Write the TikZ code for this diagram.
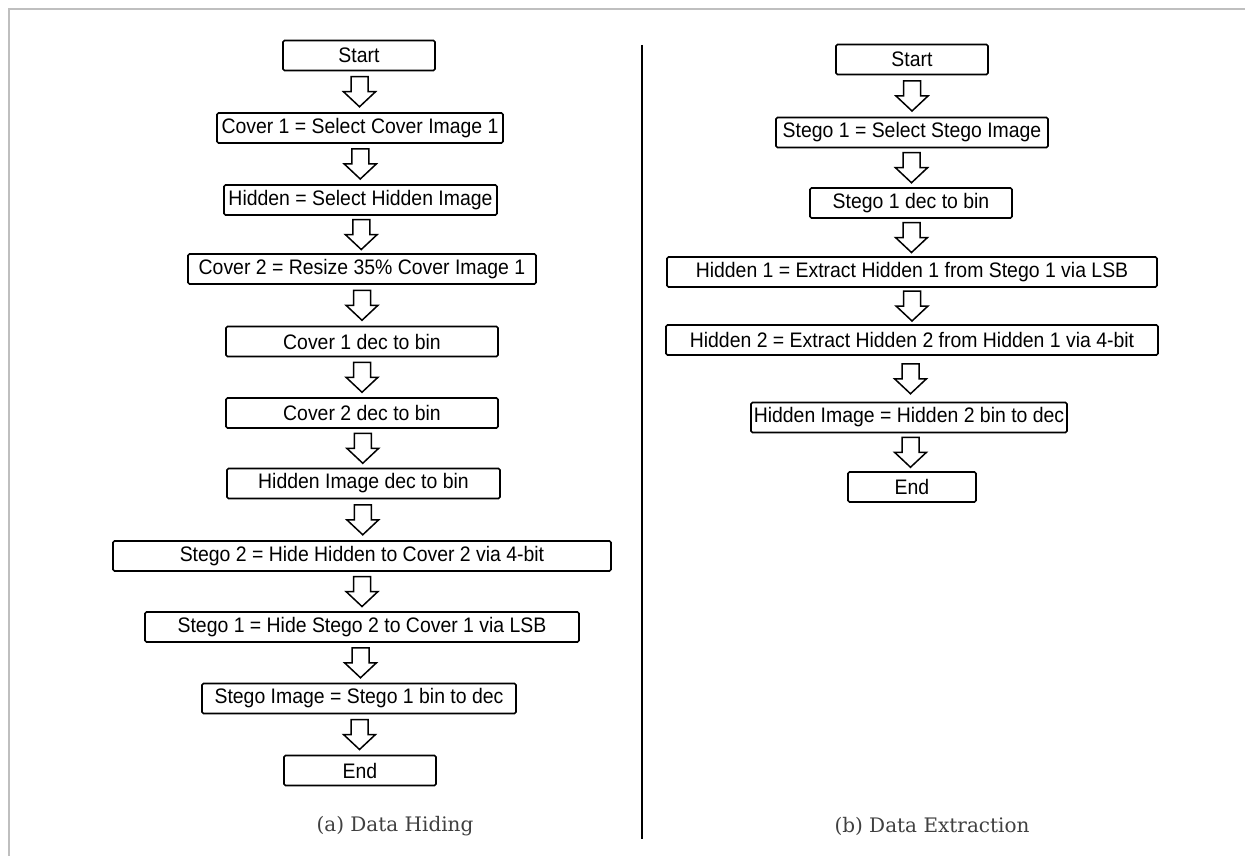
\documentclass[tikz,border=0pt]{standalone}
\usepackage{fontspec}
\setmainfont{Liberation Sans}[FakeStretch=0.925]
\newfontfamily\capfont{DejaVu Serif}
\usetikzlibrary{calc}
\tikzset{
  stepbox/.style={draw=black, line width=1.6pt, rounded corners=1.5pt, minimum height=30pt, inner sep=0pt, fill=white, font=\fontsize{21}{24}\selectfont},
  flowarrow/.style={draw=black, line width=1.5pt, fill=white},
  captext/.style={font=\capfont\fontsize{20}{24}\selectfont, text=black!75},
}
\newcommand{\flowarr}[2]{%
  \coordinate (m) at ($(#1.south)!0.5!(#2.north)$);
  \draw[flowarrow] ($(m)+(-8.5,-15)$) -- ($(m)+(8.5,-15)$) -- ($(m)+(8.5,0)$) -- ($(m)+(16,0)$) -- ($(m)+(0,15)$) -- ($(m)+(-16,0)$) -- ($(m)+(-8.5,0)$) -- cycle;
}
\begin{document}
\begin{tikzpicture}[x=1pt,y=-1pt]
\useasboundingbox (0,0) rectangle (1245,856);
\draw[black!25, line width=2pt] (9,856) -- (9,9) -- (1245,9);
\draw[black, line width=1.5pt] (642,45) -- (642,839);

% left column
\node[stepbox, minimum width=152pt] (ls)   at (359,55.5)  {Start};
\node[stepbox, minimum width=286pt] (lc1)  at (360,128)   {Cover 1 = Select Cover Image 1};
\node[stepbox, minimum width=273pt] (lhid) at (360.5,200) {Hidden = Select Hidden Image};
\node[stepbox, minimum width=348pt] (lc2)  at (362,269)   {Cover 2 = Resize 35\% Cover Image 1};
\node[stepbox, minimum width=272pt] (lc1b) at (362,341.5) {Cover 1 dec to bin};
\node[stepbox, minimum width=272pt] (lc2b) at (362,413)   {Cover 2 dec to bin};
\node[stepbox, minimum width=273pt] (lhib) at (363.5,483.5) {Hidden Image dec to bin};
\node[stepbox, minimum width=498pt] (lst2) at (362,556)   {Stego 2 = Hide Hidden to Cover 2 via 4-bit};
\node[stepbox, minimum width=434pt] (lst1) at (362,627)   {Stego 1 = Hide Stego 2 to Cover 1 via LSB};
\node[stepbox, minimum width=314pt] (lsti) at (359,698.5) {Stego Image = Stego 1 bin to dec};
\node[stepbox, minimum width=152pt] (le)   at (360,770.5) {End};
\flowarr{ls}{lc1}
\flowarr{lc1}{lhid}
\flowarr{lhid}{lc2}
\flowarr{lc2}{lc1b}
\flowarr{lc1b}{lc2b}
\flowarr{lc2b}{lhib}
\flowarr{lhib}{lst2}
\flowarr{lst2}{lst1}
\flowarr{lst1}{lsti}
\flowarr{lsti}{le}

% right column
\node[stepbox, minimum width=152pt] (rs)   at (912,59.5)  {Start};
\node[stepbox, minimum width=272pt] (rss)  at (912,132.5) {Stego 1 = Select Stego Image};
\node[stepbox, minimum width=202pt] (rsd)  at (911,203)   {Stego 1 dec to bin};
\node[stepbox, minimum width=490pt] (rh1)  at (912,272)   {Hidden 1 = Extract Hidden 1 from Stego 1 via LSB};
\node[stepbox, minimum width=492pt] (rh2)  at (912,340)   {Hidden 2 = Extract Hidden 2 from Hidden 1 via 4-bit};
\node[stepbox, minimum width=316pt] (rhi)  at (909,417.5) {Hidden Image = Hidden 2 bin to dec};
\node[stepbox, minimum width=128pt] (re)   at (912,487)   {End};
\flowarr{rs}{rss}
\flowarr{rss}{rsd}
\flowarr{rsd}{rh1}
\flowarr{rh1}{rh2}
\flowarr{rh2}{rhi}
\flowarr{rhi}{re}

\node[captext] (capa) at (395,826) {(a) Data Hiding};
\node[captext] (capb) at (932,826) {(b) Data Extraction};
\end{tikzpicture}
\end{document}
